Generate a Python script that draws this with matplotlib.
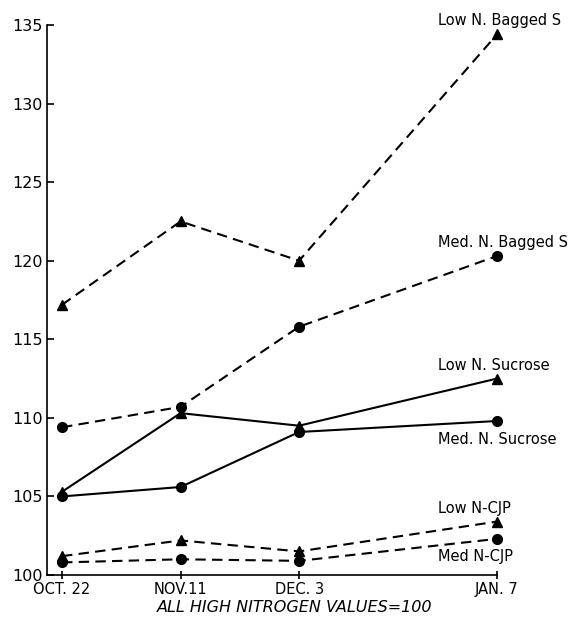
import numpy as np
import matplotlib
matplotlib.use("Agg")
import matplotlib.pyplot as plt

plt.rcParams['font.family'] = ['DejaVu Sans']

dates = ["OCT. 22", "NOV.11", "DEC. 3", "JAN. 7"]
date_pos = [0, 1, 2, 3.67]

low_bagged = [117.2, 122.5, 120.0, 134.4]
med_bagged = [109.4, 110.7, 115.8, 120.3]
low_sucrose = [105.3, 110.3, 109.5, 112.5]
med_sucrose = [105.0, 105.6, 109.1, 109.8]
low_cjp = [101.2, 102.2, 101.5, 103.4]
med_cjp = [100.8, 101.0, 100.9, 102.3]

labels = ["Low N. Bagged S", "Med. N. Bagged S", "Low N. Sucrose",
          "Med. N. Sucrose", "Low N-CJP", "Med N-CJP"]

W, H = 574, 619
fig = plt.figure(figsize=(W / 100, H / 100), dpi=100)
ax = fig.add_axes([47 / W, (H - 575) / H, (497 - 47) / W, (575 - 25) / H])

dash = (0, (5, 3))
series = [
    (low_bagged, '^', dash),
    (med_bagged, 'o', dash),
    (low_sucrose, '^', '-'),
    (med_sucrose, 'o', '-'),
    (low_cjp, '^', dash),
    (med_cjp, 'o', dash),
]
for vals, m, ls in series:
    ax.plot(date_pos, vals, color='black', linestyle=ls, linewidth=1.5,
            marker=m, markersize=7 if m == 'o' else 6.5, clip_on=False)

x0 = -0.127
ax.set_xlim(x0, date_pos[-1])
ax.set_ylim(100, 135)
ax.set_xticks(date_pos)
ax.set_xticklabels(dates)
ax.set_yticks(np.arange(100, 136, 5))
for s in ['top', 'right']:
    ax.spines[s].set_visible(False)
for s in ['left', 'bottom']:
    ax.spines[s].set_linewidth(1.2)
ax.tick_params(axis='y', direction='in', length=5, width=1.2, labelsize=11.5, pad=3)
ax.tick_params(axis='x', direction='inout', length=6, width=1.2, labelsize=10.5, pad=2)

# curve labels, placed in pixel coords of the reference
lab_xy = [(438, 20), (438, 243), (438, 365), (438, 440), (438, 508), (438, 557)]
for txt, (px, py) in zip(labels, lab_xy):
    fig.text(px / W, 1 - py / H, txt, fontsize=10.5, ha='left', va='center')

fig.text(295 / W, 1 - 607 / H, "ALL HIGH NITROGEN VALUES=100", fontsize=11.5,
         style='italic', ha='center', va='center')

fig.savefig("out.png", dpi=100)
